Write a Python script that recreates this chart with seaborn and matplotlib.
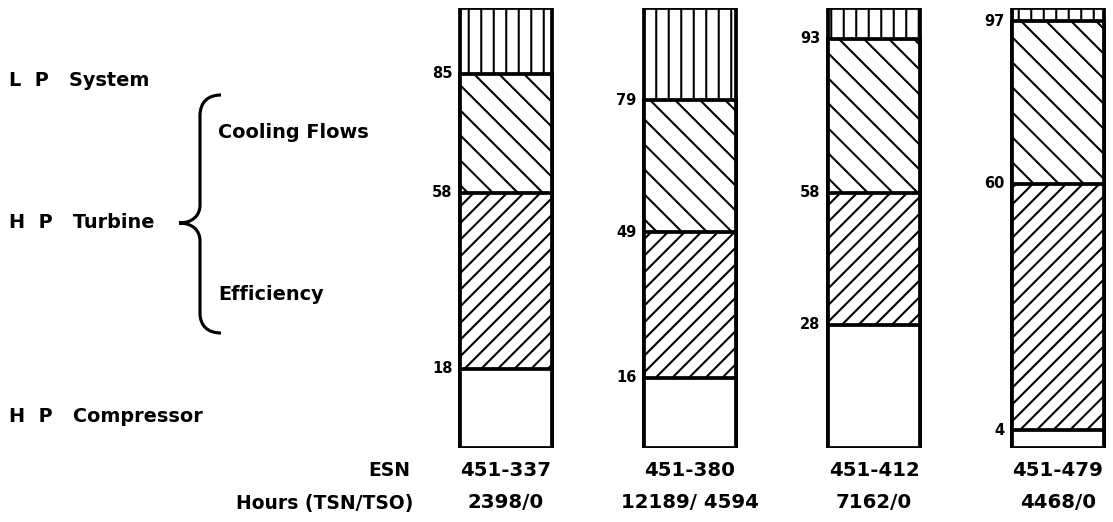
import matplotlib
matplotlib.use("Agg")
import matplotlib.pyplot as plt
from matplotlib.path import Path
from matplotlib.patches import PathPatch
import seaborn as sns

# Engine data (cumulative boundaries of each loss segment, percent)
engines = ["451-337", "451-380", "451-412", "451-479"]
hours = ["2398/0", "12189/ 4594", "7162/0", "4468/0"]
hp_compressor_top = [18, 16, 28, 4]
hp_efficiency_top = [58, 49, 58, 60]
hp_cooling_top = [85, 79, 93, 97]
lp_system_top = [100, 100, 100, 100]

W, H, DPI = 1113, 522, 150

sns.set_style("white")
plt.rcParams['font.family'] = ['DejaVu Sans']
plt.rcParams['font.weight'] = 'bold'
plt.rcParams['text.color'] = 'black'
plt.rcParams['hatch.linewidth'] = 1.0

fig = plt.figure(figsize=(W / DPI, H / DPI), dpi=DPI)
ax = fig.add_axes([0, 74 / H, 1, 440 / H])

# overlay bars from the top of the stack down
layers = [
    (lp_system_top, "||"),
    (hp_cooling_top, "\\\\"),
    (hp_efficiency_top, "///"),
    (hp_compressor_top, None),
]
for vals, hatch in layers:
    sns.barplot(x=engines, y=vals, color="white", saturation=1, width=0.5,
                edgecolor="black", linewidth=1.8, hatch=hatch, ax=ax)

ax.set_ylim(0, 100)
ax.set_xlim(-506 / 184, (W - 506) / 184)
ax.axis("off")

# boundary value labels left of each bar
for i in range(len(engines)):
    for v in (hp_compressor_top[i], hp_efficiency_top[i], hp_cooling_top[i]):
        ax.text(i - 0.25 - 0.04, v, str(v), ha="right", va="center",
                fontsize=7, fontweight="bold")

# bottom labels
xt = ax.get_xaxis_transform()
for i in range(len(engines)):
    ax.text(i, -0.05, engines[i], transform=xt, ha="center", va="center",
            fontsize=9.5, fontweight="bold")
    ax.text(i, -0.125, hours[i], transform=xt, ha="center", va="center",
            fontsize=9.5, fontweight="bold")


def px(x, y):
    return x / W, 1 - y / H


fig.text(*px(410, 470), "ESN", ha="right", va="center", fontsize=9, fontweight="bold")
fig.text(*px(413, 503), "Hours (TSN/TSO)", ha="right", va="center", fontsize=9,
         fontweight="bold")

# left side category labels
fs = 9.25
fig.text(*px(9, 80), "L  P   System", ha="left", va="center", fontsize=fs, fontweight="bold")
fig.text(*px(218, 132), "Cooling Flows", ha="left", va="center", fontsize=fs, fontweight="bold")
fig.text(*px(9, 222), "H  P   Turbine", ha="left", va="center", fontsize=fs, fontweight="bold")
fig.text(*px(218, 295), "Efficiency", ha="left", va="center", fontsize=fs, fontweight="bold")
fig.text(*px(9, 417), "H  P   Compressor", ha="left", va="center", fontsize=fs, fontweight="bold")

# curly brace
pts = [(221, 95), (208, 95), (200, 102), (200, 116),
       (200, 205),
       (200, 216), (192, 223), (179, 223),
       (192, 223), (200, 230), (200, 241),
       (200, 313),
       (200, 326), (208, 333), (221, 333)]
codes = [Path.MOVETO, Path.CURVE4, Path.CURVE4, Path.CURVE4,
         Path.LINETO,
         Path.CURVE4, Path.CURVE4, Path.CURVE4,
         Path.CURVE4, Path.CURVE4, Path.CURVE4,
         Path.LINETO,
         Path.CURVE4, Path.CURVE4, Path.CURVE4]
brace = PathPatch(Path([px(x, y) for x, y in pts], codes), transform=fig.transFigure,
                  facecolor="none", edgecolor="black", linewidth=1.5)
fig.add_artist(brace)

fig.savefig("out.png", dpi=DPI, facecolor="white")
